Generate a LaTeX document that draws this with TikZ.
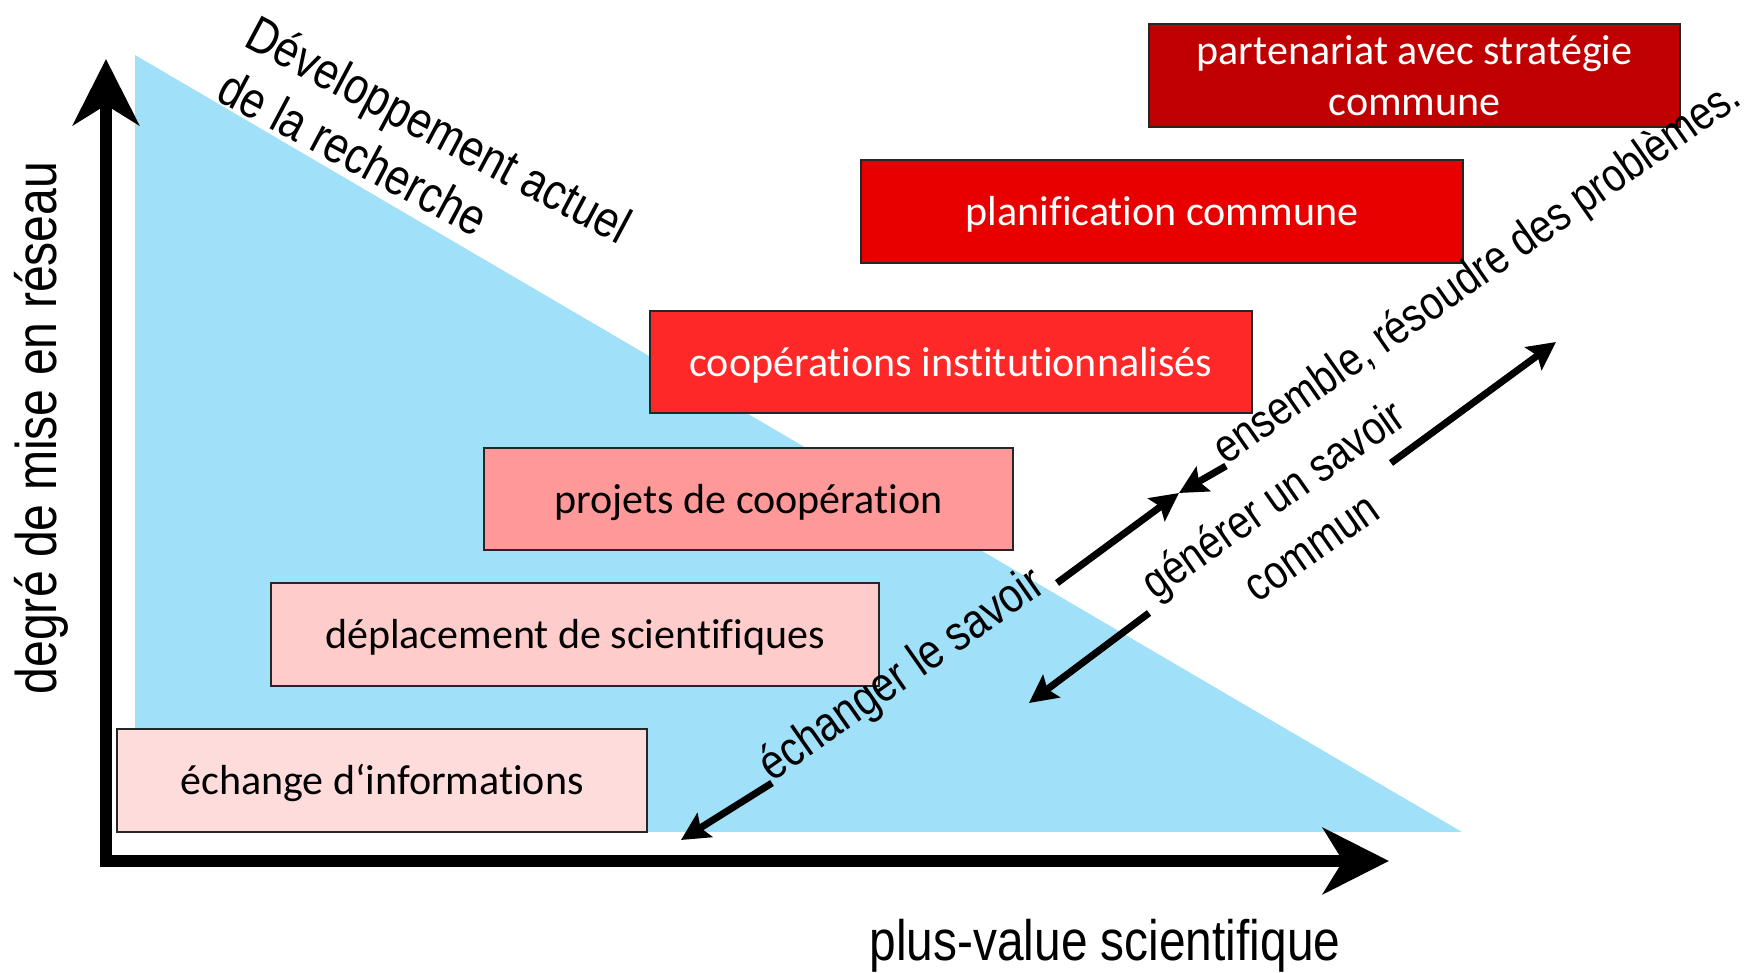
\documentclass[tikz,border=0pt]{standalone}
\usepackage{fontspec}
\setmainfont{Carlito}[Ligatures=NoCommon]
\newfontfamily\labfont[FakeStretch=0.84,Ligatures=NoCommon]{Liberation Sans}
\newfontfamily\boxfont[Ligatures=NoCommon]{Carlito}
\usetikzlibrary{arrows.meta}
\definecolor{tri}{RGB}{160,224,248}
\definecolor{c1}{RGB}{192,0,0}
\definecolor{c2}{RGB}{232,0,0}
\definecolor{c3}{RGB}{255,40,40}
\definecolor{c4}{RGB}{255,153,153}
\definecolor{c5}{RGB}{255,204,204}
\definecolor{c6}{RGB}{255,220,220}
\begin{document}
\begin{tikzpicture}[x=0.01cm,y=-0.01cm,
  stage/.style={draw=black!85, line width=0.6pt, inner sep=0pt, align=center,
    font=\boxfont\fontsize{11.95pt}{14.5pt}\selectfont},
  oneline/.style={text height=10.6pt, text depth=2.4pt},
  lab/.style={inner sep=0pt, font=\labfont\fontsize{#1}{1.18\dimexpr#1\relax}\selectfont},
  lab/.default=13.9pt,
  axis/.style={line width=0.12cm, {Stealth[length=0.66cm,width=0.66cm,inset=0.2cm]}-{Stealth[length=0.66cm,width=0.66cm,inset=0.2cm]}},
  darr/.style={line width=0.07cm, -{Stealth[length=0.28cm,width=0.28cm,inset=0.05cm]}}]
\useasboundingbox (0,0) rectangle (1756,973);
\fill[white] (0,0) rectangle (1756,973);
% triangle
\fill[tri] (135,55) -- (135,832) -- (1462,832) -- cycle;
% axes
\coordinate (O) at (106,861);
\coordinate (ytip) at (106,59);
\coordinate (xtip) at (1389,861);
\draw[axis] (ytip) -- (O) -- (xtip);
% boxes
\node[stage, fill=c1, text=white, minimum width=5.31cm, minimum height=1.03cm] (b1) at (1414.5,75.5) {partenariat avec stratégie\\commune};
\node[stage, oneline, fill=c2, text=white, minimum width=6.02cm, minimum height=1.03cm] (b2) at (1162,211.5) {planification commune};
\node[stage, oneline, fill=c3, text=white, minimum width=6.02cm, minimum height=1.02cm] (b3) at (951,362) {coopérations institutionnalisés};
\node[stage, oneline, fill=c4, text=black, minimum width=5.29cm, minimum height=1.02cm] (b4) at (748.5,499) {projets de coopération};
\node[stage, oneline, fill=c5, text=black, minimum width=6.08cm, minimum height=1.03cm] (b5) at (575,634.5) {déplacement de scientifiques};
\node[stage, oneline, fill=c6, text=black, minimum width=5.30cm, minimum height=1.03cm] (b6) at (382,780.5) {échange d‘informations};
% axis labels
\node[lab=16.3pt, rotate=90, anchor=base] (ylab) at (57,428) {degré de mise en réseau};
\node[lab=16.2pt, anchor=base] (xlab) at (1105,961) {plus-value scientifique};
\node[lab=14.5pt, rotate=-28, anchor=base west] (dev1) at (242,45) {Développement actuel};
\node[lab=14.5pt, rotate=-28, anchor=base west] (dev2) at (214,99) {de la recherche};
% diagonal labels
\node[lab=13.9pt, rotate=35, anchor=base west] (ech) at (772,783) {échanger le savoir};
\node[lab=13.4pt, rotate=35, anchor=base west] (ens) at (1226,466) {ensemble, résoudre des problèmes.};
\node[lab=13.4pt, rotate=35, anchor=base] (gen1) at (1282,512) {générer un savoir};
\node[lab=13.4pt, rotate=35, anchor=base] (gen2) at (1320,560) {commun};
% arrows
\coordinate (M) at (1179,493);
\coordinate (e1tip) at (681,840);
\coordinate (e2start) at (1057,583);
\coordinate (g1start) at (1149,613);
\coordinate (g1tip) at (1029,703);
\coordinate (g2start) at (1391,463);
\coordinate (g2tip) at (1556,342);
\draw[darr] (ech.base west) -- (e1tip);
\draw[darr] (e2start) -- (M);
\draw[darr] (ens.base west) -- (M);
\draw[darr] (g1start) -- (g1tip);
\draw[darr] (g2start) -- (g2tip);
\end{tikzpicture}
\end{document}
